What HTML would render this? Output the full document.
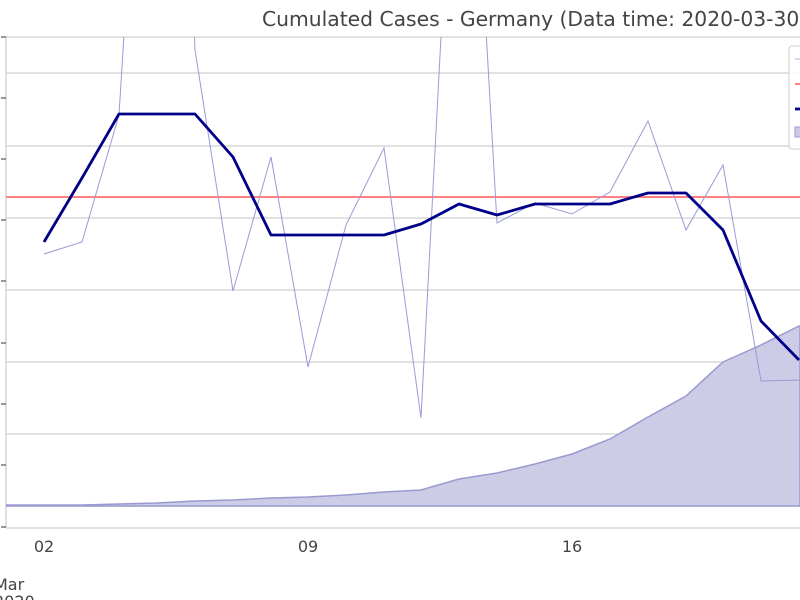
<!DOCTYPE html>
<html><head><style>body{margin:0;background:#fff}svg{display:block}text{font-family:"DejaVu Sans","Liberation Sans",sans-serif;fill:#444}</style></head><body>
<svg width="800" height="600" viewBox="0 0 800 600">
<defs><clipPath id="c"><rect x="6" y="37" width="800" height="491"/></clipPath></defs>
<text x="262" y="26" font-size="20.3">Cumulated Cases - Germany (Data time: 2020-03-30)</text>
<g stroke="#d0d0d0" stroke-width="1.3">
<line x1="6" y1="37" x2="800" y2="37"/><line x1="6" y1="73" x2="800" y2="73"/><line x1="6" y1="146" x2="800" y2="146"/><line x1="6" y1="218" x2="800" y2="218"/><line x1="6" y1="290" x2="800" y2="290"/><line x1="6" y1="362" x2="800" y2="362"/><line x1="6" y1="434" x2="800" y2="434"/><line x1="6" y1="506" x2="800" y2="506"/>
<line x1="6" y1="37" x2="6" y2="528"/><line x1="6" y1="528" x2="800" y2="528"/>
</g>
<g stroke="#555" stroke-width="1.2">
<line x1="1" y1="37" x2="6" y2="37"/><line x1="1" y1="98" x2="6" y2="98"/><line x1="1" y1="159" x2="6" y2="159"/><line x1="1" y1="220" x2="6" y2="220"/><line x1="1" y1="281" x2="6" y2="281"/><line x1="1" y1="343" x2="6" y2="343"/><line x1="1" y1="404" x2="6" y2="404"/><line x1="1" y1="465" x2="6" y2="465"/><line x1="1" y1="527" x2="6" y2="527"/>
</g>
<g clip-path="url(#c)">
<path d="M6,505 L44,505 L82,505 L119,504 L157,503 L195,501 L233,500 L271,498 L308,497 L346,495 L384,492 L421,490 L459,479 L497,473 L535,464 L572,454 L610,439 L648,417 L686,396 L723,362 L761,345 L799,326 L800,326 L800,506 L6,506 Z" fill="#cccce6" stroke="#9a9ad0" stroke-width="1.5"/>
<line x1="6" y1="197" x2="800" y2="197" stroke="#ff8080" stroke-width="2"/>
<polyline fill="none" stroke="#9a9ad8" stroke-width="1" points="44,254 82,242 119,115 128,-30 192,-30 195,50 233,291 271,157 308,367 346,225 384,148 421,418 445,-40 482,-40 497,223 535,203 572,214 610,192 648,121 686,230 723,165 761,381 800,380"/>
<polyline fill="none" stroke="#000088" stroke-width="2.8" stroke-linejoin="round" points="44,242 82,178 119,114 157,114 195,114 233,157 271,235 308,235 346,235 384,235 421,224 459,204 497,215 535,204 572,204 610,204 648,193 686,193 723,230 761,321 799,360"/>
</g>
<rect x="789" y="46" width="20" height="103" rx="3" fill="#fff" fill-opacity="0.85" stroke="#ccc"/>
<line x1="795" y1="59" x2="805" y2="59" stroke="#b0b0dd"/>
<line x1="795" y1="84" x2="805" y2="84" stroke="#ff8080" stroke-width="2"/>
<line x1="795" y1="109" x2="805" y2="109" stroke="#000088" stroke-width="2.8"/>
<rect x="795" y="127" width="10" height="10" fill="#cccce6" stroke="#9a9ad0"/>
<g font-size="16"><text x="44" y="552" text-anchor="middle">02</text><text x="308" y="552" text-anchor="middle">09</text><text x="572" y="552" text-anchor="middle">16</text>
<text x="-6" y="590">Mar</text><text x="-6" y="607">2020</text></g>
</svg></body></html>
